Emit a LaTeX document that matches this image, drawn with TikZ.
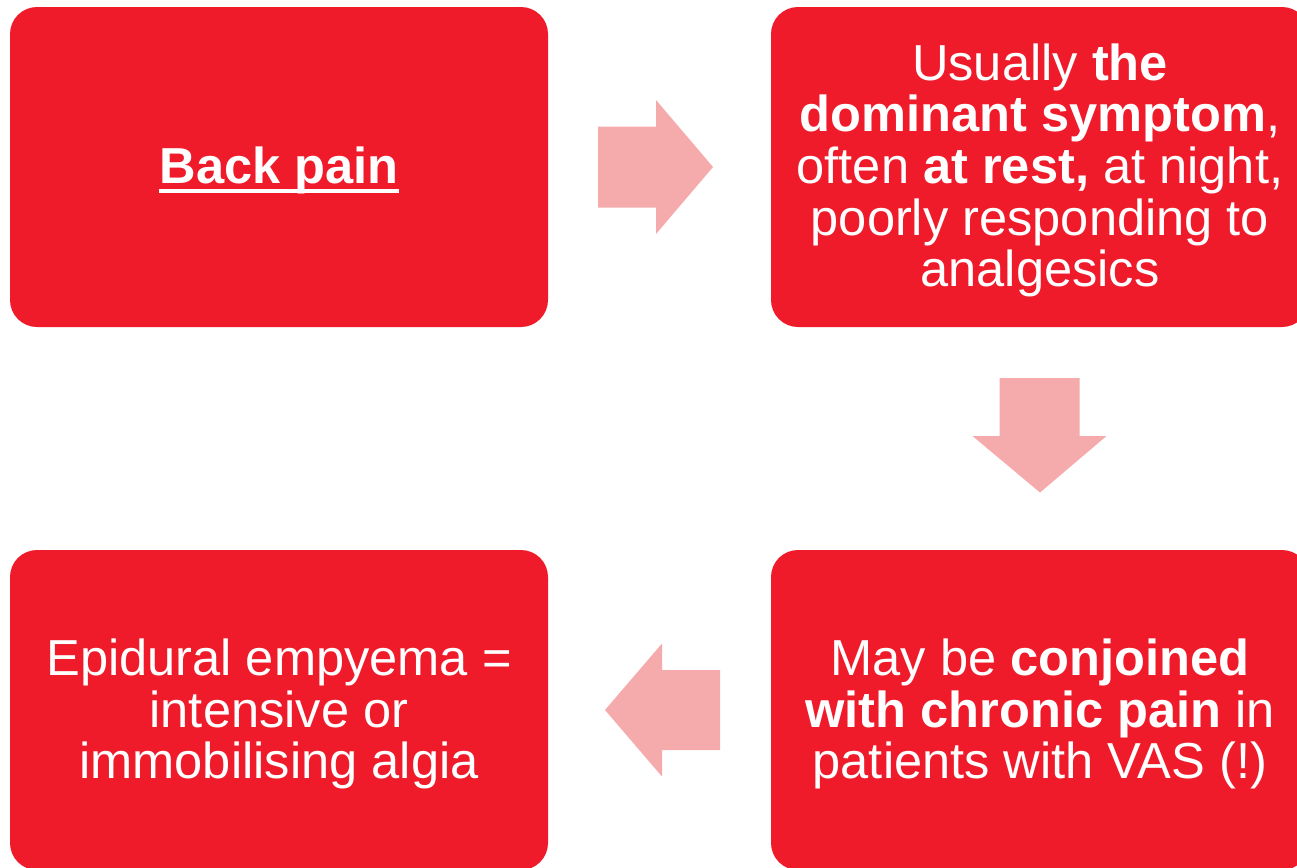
\documentclass[tikz,border=0pt]{standalone}
\usepackage{fontspec}
\setmainfont{Liberation Sans}
\definecolor{boxred}{RGB}{239,27,42}
\definecolor{arrowpink}{RGB}{245,170,172}
\tikzset{
  box/.style={fill=boxred, rounded corners=13.5pt, minimum width=269pt, minimum height=160pt, inner sep=0pt},
  txt/.style={text=white, align=center, inner sep=0pt, font=\fontsize{25.3}{25.85}\selectfont},
  blockarrow/.style={fill=arrowpink, draw=none}
}
\begin{document}
\begin{tikzpicture}[x=0.5pt, y=-0.5pt]
\clip (0,0) rectangle (1297,868);
\node[box] (tl) at (279,167) {};
\node[box] (tr) at (1040,167) {};
\node[box] (br) at (1040,710) {};
\node[box] (bl) at (279,710) {};
\node[txt, anchor=base] (bp) at (279,183.3) {\textbf{Back pain}};
\draw[white, line width=2pt] ([yshift=-4pt]bp.base west) -- ([yshift=-4pt]bp.base east);
\node[txt] (trt) at ([yshift=-1.75pt]tr.center) {Usually \textbf{the}\\\textbf{dominant symptom},\\often \textbf{at rest,} at night,\\poorly responding to\\analgesics};
\node[txt] (brt) at ([yshift=-2pt]br.center) {May be \textbf{conjoined}\\\textbf{with chronic pain} in\\patients with VAS (!)};
\node[txt] (blt) at ([yshift=-2pt]bl.center) {Epidural empyema =\\intensive or\\immobilising algia};
% right arrow
\fill[blockarrow] (598,126.5) -- (656,126.5) -- (656,100) -- (713,167) -- (656,234) -- (656,207.5) -- (598,207.5) -- cycle;
% down arrow
\fill[blockarrow] (999.5,378) -- (1079.5,378) -- (1079.5,436) -- (1106.5,436) -- (1040,492.5) -- (972.5,436) -- (999.5,436) -- cycle;
% left arrow
\fill[blockarrow] (720,670) -- (662,670) -- (662,643.5) -- (605,710) -- (662,776.5) -- (662,750) -- (720,750) -- cycle;
\end{tikzpicture}
\end{document}
